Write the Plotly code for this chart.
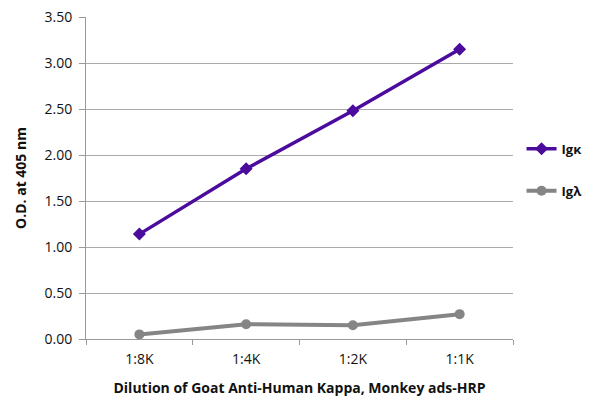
"""ELISA dilution curve: Goat Anti-Human Kappa, Monkey ads-HRP"""

import plotly.graph_objects as go

dilutions = ["1:8K", "1:4K", "1:2K", "1:1K"]
igk_values = [1.14, 1.85, 2.48, 3.15]
igl_values = [0.05, 0.16, 0.15, 0.27]

fig = go.Figure()
fig.add_trace(go.Scatter(x=dilutions, y=igk_values, name="<b>Igκ</b>", mode="lines+markers",
                         legendgroup="k",
                         line=dict(color="#4b0c9e", width=3.5),
                         marker=dict(symbol="diamond", size=10, color="#4b0c9e")))
fig.add_trace(go.Scatter(x=dilutions, y=igl_values, name="<b>Igλ</b>", mode="lines+markers",
                         legendgroup="l",
                         line=dict(color="#858585", width=4),
                         marker=dict(symbol="circle", size=10, color="#858585")))

# the page body adds an 8px offset, margins are shifted to make up for it
fig.update_layout(
    width=600, height=412,
    margin=dict(l=78, r=95, t=9, b=81),
    plot_bgcolor="white", paper_bgcolor="white",
    font=dict(family="Open Sans", size=14, color="#111111"),
    legend=dict(x=1.02, y=0.637, xanchor="left", yanchor="top",
                font=dict(size=13, color="#111111"), traceorder="grouped",
                tracegroupgap=22, itemwidth=30),
)
fig.update_xaxes(
    type="category", range=[-0.5, 3.5], automargin=False,
    showline=True, linecolor="#999999", linewidth=1,
    ticks="outside", tickson="boundaries", ticklen=5, tickcolor="#999999",
    ticklabelstandoff=7, showgrid=False,
    title=dict(text="<b>Dilution of Goat Anti-Human Kappa, Monkey ads-HRP</b>",
               font=dict(size=14), standoff=16),
)
fig.update_yaxes(
    range=[0, 3.5], dtick=0.5, tickformat=".2f", automargin=False,
    showline=True, linecolor="#999999", linewidth=1,
    ticks="outside", ticklen=6, tickcolor="#999999", ticklabelstandoff=4,
    ticklabeloverflow="allow",
    showgrid=True, gridcolor="#aaaaaa", gridwidth=1,
    zeroline=False,
    title=dict(text="<b>O.D. at 405 nm</b>", font=dict(size=14), standoff=14),
)

fig.write_html("out.html")
